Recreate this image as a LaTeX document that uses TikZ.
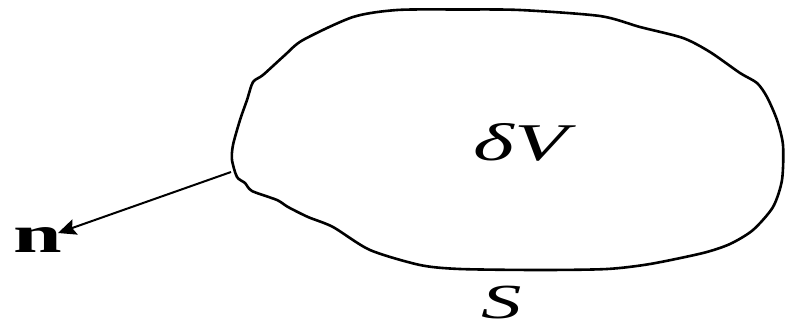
\documentclass[tikz,border=0pt]{standalone}
\usepackage{fontspec}
\setmainfont{Liberation Serif}
\usetikzlibrary{arrows.meta}
\tikzset{
  blob/.style={line width=2.6pt, line join=round},
  normal/.style={line width=2pt, -{Stealth[length=18pt,width=16pt,inset=3pt]}},
  lbl/.style={inner sep=0pt, anchor=base}
}
\newcommand{\wide}[1]{\scalebox{1.65}[1]{#1}}
\begin{document}
\begin{tikzpicture}[x=1pt,y=-1pt]
\useasboundingbox (0,0) rectangle (787,330);
\draw[blob] plot[smooth cycle, tension=0.45] coordinates {
  (397,10) (460,9.5) (520,10) (600,16) (640,27) (683,38) (710,52) (740,73) (757,83)
  (767,97) (777,120) (783,145) (782,180) (773,207) (753,230) (730,244) (703,253)
  (650,264) (607,269) (540,270) (460,269) (420,265) (370,250) (333,227)
  (308,217) (288,207) (277,200) (252,191) (245,183) (237,177) (232,160)
  (233,145) (240,120) (247,100) (253,82) (263,75) (285,55) (303,40) (353,17)
};
\coordinate (p) at (231,172);
\node[lbl] (n) at (38,252) {\fontsize{53}{60}\selectfont\bfseries\wide{n}};
\coordinate (tip) at (58,233);
\draw[normal] (p) -- (tip);
\node[lbl] (dv) at (521,160) {\fontsize{53}{60}\selectfont\itshape\wide{δV}};
\node[lbl] (s) at (502,318) {\fontsize{49}{60}\selectfont\itshape\wide{S}};
\end{tikzpicture}
\end{document}
